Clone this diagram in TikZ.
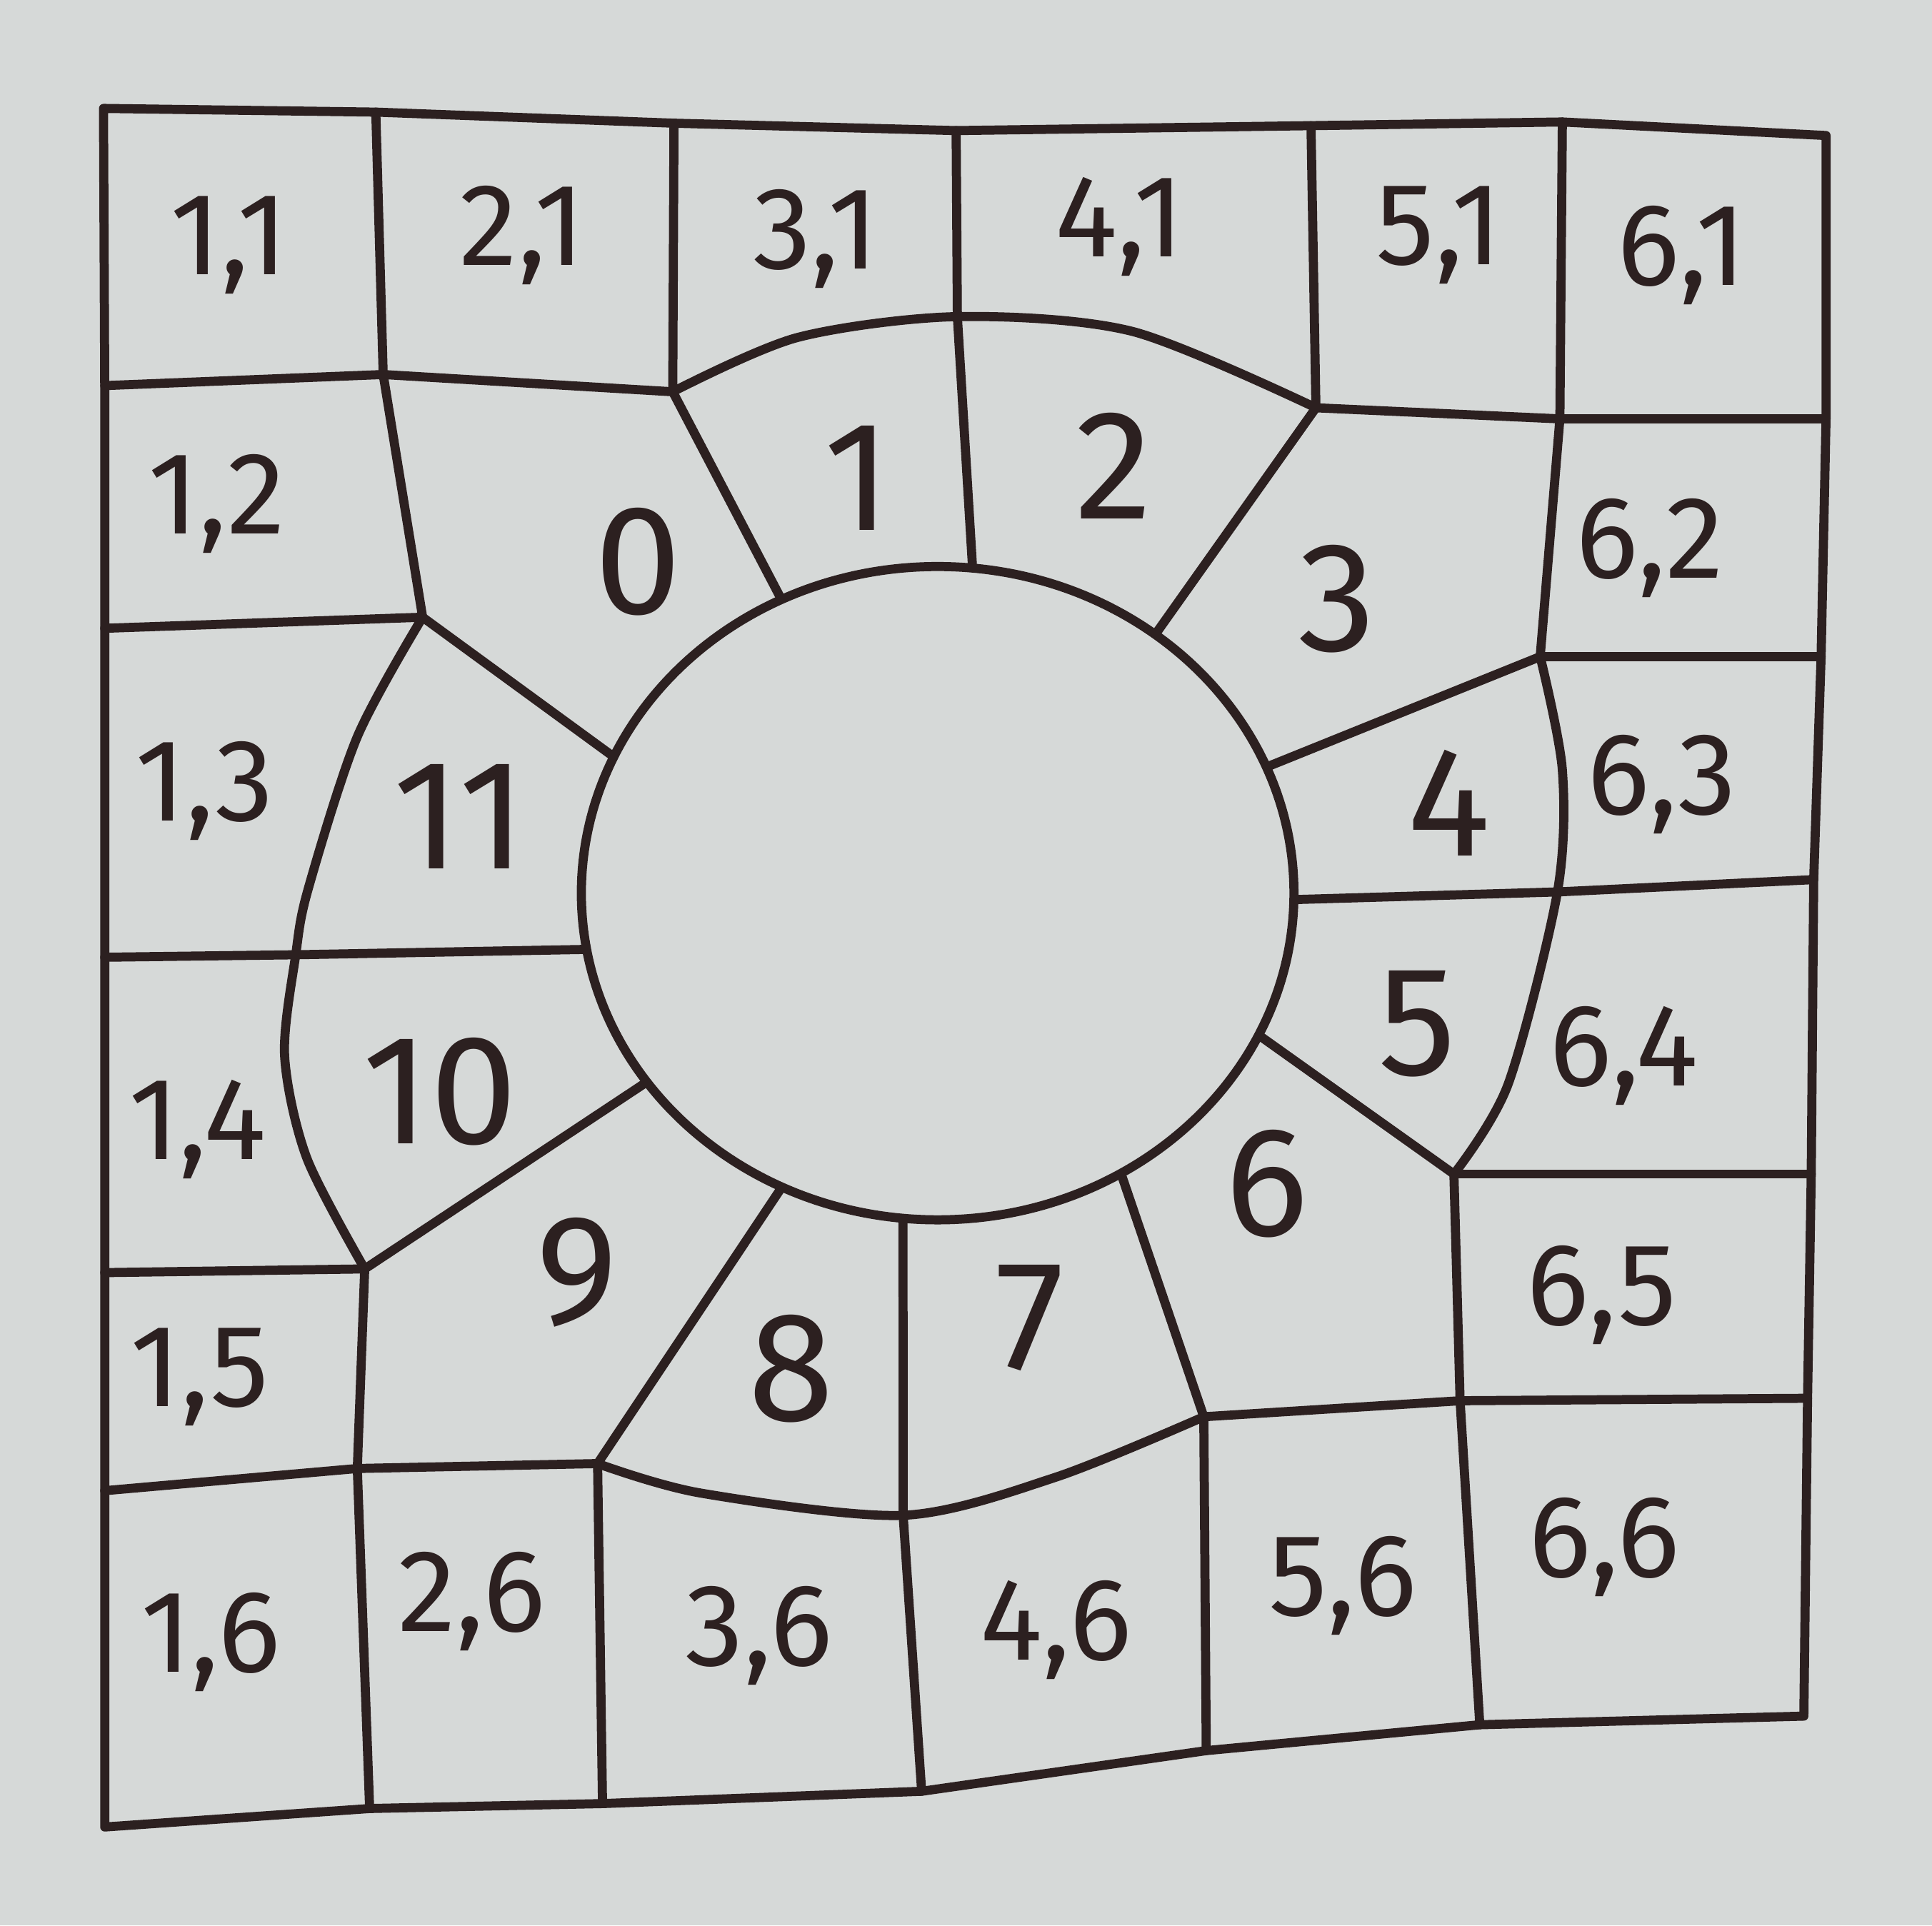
\documentclass[tikz,border=0pt]{standalone}
\usepackage{fontspec}
\setmainfont{Fira Sans}
\usetikzlibrary{shapes.geometric}
\definecolor{PaperGrey}{HTML}{D6D9D8}
\definecolor{InkDark}{HTML}{2C2020}

\begin{document}
\begin{tikzpicture}[
  x=0.01cm, y=-0.01cm,
  pen/.style={draw=InkDark, line width=2.1pt, line join=round, line cap=round},
  cell/.style={font=\fontsize{27}{32}\selectfont, text=InkDark, inner sep=0pt},
  seg/.style={font=\fontsize{36}{42}\selectfont, text=InkDark, inner sep=0pt}
]

% paper
\fill[PaperGrey] (0,0) rectangle (1568,1563);
\useasboundingbox (0,0) rectangle (1568,1563);

% frame points
\coordinate (tl) at (84,88);   \coordinate (t1) at (305,91);
\coordinate (t2) at (547,100); \coordinate (t3) at (776,106);
\coordinate (t4) at (1064,102); \coordinate (t5) at (1268,99);
\coordinate (tr) at (1482,110);
\coordinate (r1) at (1482,340); \coordinate (r2) at (1478,533);
\coordinate (r3) at (1472,714); \coordinate (r4) at (1470,953);
\coordinate (r5) at (1467,1135); \coordinate (br) at (1464,1393);
\coordinate (b5) at (1201,1400); \coordinate (b4) at (979,1421);
\coordinate (b3) at (748,1454); \coordinate (b2) at (489,1464);
\coordinate (b1) at (300,1468); \coordinate (bl) at (85,1483);
\coordinate (l5) at (85,1210); \coordinate (l4) at (85,1033);
\coordinate (l3) at (85,777);  \coordinate (l2) at (85,510);
\coordinate (l1) at (85,313);

% ring corners
\coordinate (j0a) at (311,304);  \coordinate (j0b) at (546,318);
\coordinate (j0c) at (343,501);  \coordinate (j12) at (777,257);
\coordinate (j3a) at (1068,331); \coordinate (j3b) at (1266,340);
\coordinate (j3c) at (1250,533); \coordinate (j45) at (1264,724);
\coordinate (j6a) at (1180,953); \coordinate (j6b) at (1185,1137);
\coordinate (j6c) at (977,1150); \coordinate (j78) at (733,1230);
\coordinate (j9a) at (485,1188); \coordinate (j9b) at (290,1192);
\coordinate (j9c) at (296,1030); \coordinate (j1011) at (240,775);

% hub
\node[pen, ellipse, minimum width=5.78cm, minimum height=5.30cm,
      inner sep=0pt] (hub) at (761,725) {};

% outer frame
\draw[pen] (tl) -- (t1) -- (t2) -- (t3) -- (t4) -- (t5) -- (tr)
  -- (r1) -- (r2) -- (r3) -- (r4) -- (r5) -- (br)
  -- (b5) -- (b4) -- (b3) -- (b2) -- (b1) -- (bl)
  -- (l5) -- (l4) -- (l3) -- (l2) -- (l1) -- cycle;

% row lines
\draw[pen] (l1) -- (j0a) -- (j0b);
\draw[pen] (j3a) -- (j3b) -- (r1);
\draw[pen] (l2) -- (j0c);
\draw[pen] (j3c) -- (r2);
\draw[pen] (l3) -- (j1011) -- (hub.189);
\draw[pen] (hub.359) -- (j45) -- (r3);
\draw[pen] (l4) -- (j9c);
\draw[pen] (j6a) -- (r4);
\draw[pen] (l5) -- (j9b) -- (j9a);
\draw[pen] (j6c) -- (j6b) -- (r5);

% column lines
\draw[pen] (t1) -- (j0a) -- (j0c);
\draw[pen] (t2) -- (j0b);
\draw[pen] (t3) -- (j12) -- (hub.84);
\draw[pen] (t4) -- (j3a);
\draw[pen] (t5) -- (j3b) -- (j3c);
\draw[pen] (j9c) -- (j9b) -- (b1);
\draw[pen] (j9a) -- (b2);
\draw[pen] (hub.264) -- (j78) -- (b3);
\draw[pen] (j6c) -- (b4);
\draw[pen] (j6a) -- (j6b) -- (b5);

% ring dividers
\draw[pen] (hub.118) -- (j0b);
\draw[pen] (hub.50) -- (j3a);
\draw[pen] (hub.21) -- (j3c);
\draw[pen] (hub.336) -- (j6a);
\draw[pen] (hub.303) -- (j6c);
\draw[pen] (hub.242) -- (j9a);
\draw[pen] (hub.213) -- (j9c);
\draw[pen] (hub.157) -- (j0c);

% ring outer arcs
\draw[pen] plot[smooth] coordinates {(j0b) (647,274) (j12) (919,269) (j3a)};
\draw[pen] plot[smooth] coordinates {(j3c) (1268,625) (j45) (1224,880) (j6a)};
\draw[pen] plot[smooth] coordinates {(j6c) (857,1199) (j78) (569,1212) (j9a)};
\draw[pen] plot[smooth] coordinates {(j9c) (249,940) (231,857) (j1011)
  (250,722) (290,598) (j0c)};

% ring segments
\node[seg] (s0) at (518,456) {0};
\node[seg] (s1) at (696,388) {1};
\node[seg] (s2) at (904,378) {2};
\node[seg] (s3) at (1085,486) {3};
\node[seg] (s4) at (1176,652) {4};
\node[seg] (s5) at (1150,831) {5};
\node[seg] (s6) at (1028,961) {6};
\node[seg] (s7) at (836,1070) {7};
\node[seg] (s8) at (642,1111) {8};
\node[seg] (s9) at (468,1033) {9};
\node[seg] (s10) at (357,886) {10};
\node[seg] (s11) at (373,663) {11};

% top row
\node[cell] (c11) at (186,199) {1,1};
\node[cell] (c21) at (424,191) {2,1};
\node[cell] (c31) at (662,194) {3,1};
\node[cell] (c41) at (909,184) {4,1};
\node[cell] (c51) at (1168,191) {5,1};
\node[cell] (c61) at (1365,207) {6,1};

% side columns
\node[cell] (c12) at (176,409) {1,2};
\node[cell] (c62) at (1339,445) {6,2};
\node[cell] (c13) at (166,642) {1,3};
\node[cell] (c63) at (1349,637) {6,3};
\node[cell] (c14) at (160,917) {1,4};
\node[cell] (c64) at (1318,857) {6,4};
\node[cell] (c15) at (162,1118) {1,5};
\node[cell] (c65) at (1300,1051) {6,5};

% bottom row
\node[cell] (c16) at (171,1333) {1,6};
\node[cell] (c26) at (383,1300) {2,6};
\node[cell] (c36) at (616,1328) {3,6};
\node[cell] (c46) at (857,1323) {4,6};
\node[cell] (c56) at (1090,1287) {5,6};
\node[cell] (c66) at (1302,1256) {6,6};

\end{tikzpicture}
\end{document}
